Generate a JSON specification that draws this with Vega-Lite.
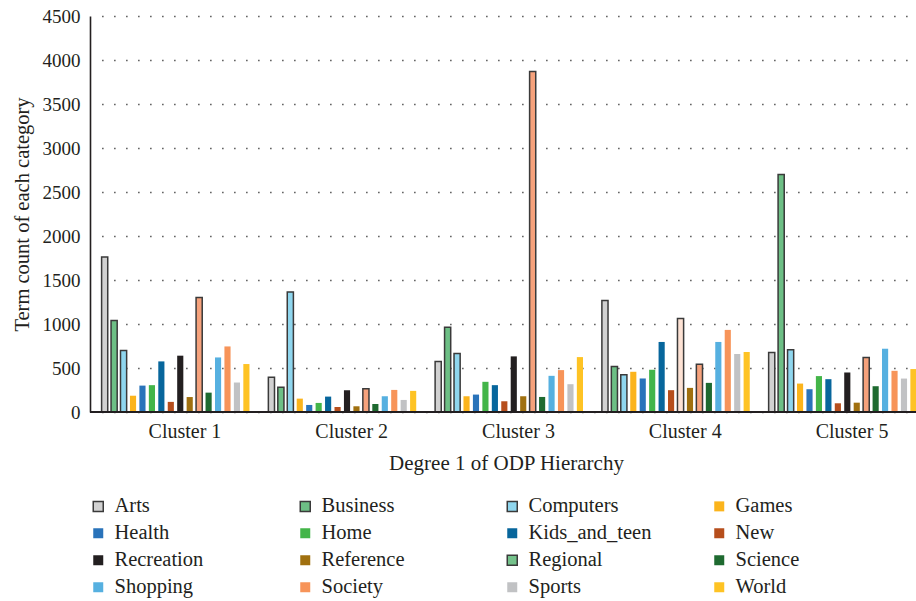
{
  "$schema": "https://vega.github.io/schema/vega-lite/v6.json",
  "width": 826,
  "height": 396,
  "autosize": "none",
  "padding": {"left": 90, "top": 16, "right": 0, "bottom": 189},
  "background": "white",
  "config": {
    "view": {"stroke": null},
    "font": "Liberation Serif",
    "axis": {"labelFont": "Liberation Serif", "titleFont": "Liberation Serif", "labelColor": "#231f20", "titleColor": "#231f20", "titleFontWeight": "normal"},
    "legend": {"labelFont": "Liberation Serif", "labelColor": "#231f20"}
  },
  "data": {
    "values": [
      {"cluster": "Cluster 1", "category": "Arts", "count": 1760},
      {"cluster": "Cluster 1", "category": "Business", "count": 1040},
      {"cluster": "Cluster 1", "category": "Computers", "count": 700},
      {"cluster": "Cluster 1", "category": "Games", "count": 185},
      {"cluster": "Cluster 1", "category": "Health", "count": 300},
      {"cluster": "Cluster 1", "category": "Home", "count": 305},
      {"cluster": "Cluster 1", "category": "Kids_and_teen", "count": 575},
      {"cluster": "Cluster 1", "category": "New", "count": 115},
      {"cluster": "Cluster 1", "category": "Recreation", "count": 640},
      {"cluster": "Cluster 1", "category": "Reference", "count": 170},
      {"cluster": "Cluster 1", "category": "Regional", "count": 1300},
      {"cluster": "Cluster 1", "category": "Science", "count": 220},
      {"cluster": "Cluster 1", "category": "Shopping", "count": 620},
      {"cluster": "Cluster 1", "category": "Society", "count": 745},
      {"cluster": "Cluster 1", "category": "Sports", "count": 335},
      {"cluster": "Cluster 1", "category": "World", "count": 545},
      {"cluster": "Cluster 2", "category": "Arts", "count": 395},
      {"cluster": "Cluster 2", "category": "Business", "count": 280},
      {"cluster": "Cluster 2", "category": "Computers", "count": 1365},
      {"cluster": "Cluster 2", "category": "Games", "count": 152},
      {"cluster": "Cluster 2", "category": "Health", "count": 80},
      {"cluster": "Cluster 2", "category": "Home", "count": 103},
      {"cluster": "Cluster 2", "category": "Kids_and_teen", "count": 175},
      {"cluster": "Cluster 2", "category": "New", "count": 57},
      {"cluster": "Cluster 2", "category": "Recreation", "count": 248},
      {"cluster": "Cluster 2", "category": "Reference", "count": 65},
      {"cluster": "Cluster 2", "category": "Regional", "count": 263},
      {"cluster": "Cluster 2", "category": "Science", "count": 91},
      {"cluster": "Cluster 2", "category": "Shopping", "count": 179},
      {"cluster": "Cluster 2", "category": "Society", "count": 251},
      {"cluster": "Cluster 2", "category": "Sports", "count": 137},
      {"cluster": "Cluster 2", "category": "World", "count": 240},
      {"cluster": "Cluster 3", "category": "Arts", "count": 575},
      {"cluster": "Cluster 3", "category": "Business", "count": 963},
      {"cluster": "Cluster 3", "category": "Computers", "count": 666},
      {"cluster": "Cluster 3", "category": "Games", "count": 179},
      {"cluster": "Cluster 3", "category": "Health", "count": 198},
      {"cluster": "Cluster 3", "category": "Home", "count": 343},
      {"cluster": "Cluster 3", "category": "Kids_and_teen", "count": 305},
      {"cluster": "Cluster 3", "category": "New", "count": 122},
      {"cluster": "Cluster 3", "category": "Recreation", "count": 632},
      {"cluster": "Cluster 3", "category": "Reference", "count": 179},
      {"cluster": "Cluster 3", "category": "Regional", "count": 3870},
      {"cluster": "Cluster 3", "category": "Science", "count": 171},
      {"cluster": "Cluster 3", "category": "Shopping", "count": 411},
      {"cluster": "Cluster 3", "category": "Society", "count": 476},
      {"cluster": "Cluster 3", "category": "Sports", "count": 316},
      {"cluster": "Cluster 3", "category": "World", "count": 624},
      {"cluster": "Cluster 4", "category": "Arts", "count": 1268},
      {"cluster": "Cluster 4", "category": "Business", "count": 518},
      {"cluster": "Cluster 4", "category": "Computers", "count": 423},
      {"cluster": "Cluster 4", "category": "Games", "count": 457},
      {"cluster": "Cluster 4", "category": "Health", "count": 381},
      {"cluster": "Cluster 4", "category": "Home", "count": 480},
      {"cluster": "Cluster 4", "category": "Kids_and_teen", "count": 796},
      {"cluster": "Cluster 4", "category": "New", "count": 248},
      {"cluster": "Cluster 4", "category": "Recreation", "count": 1062},
      {"cluster": "Cluster 4", "category": "Reference", "count": 274},
      {"cluster": "Cluster 4", "category": "Regional", "count": 544},
      {"cluster": "Cluster 4", "category": "Science", "count": 331},
      {"cluster": "Cluster 4", "category": "Shopping", "count": 796},
      {"cluster": "Cluster 4", "category": "Society", "count": 933},
      {"cluster": "Cluster 4", "category": "Sports", "count": 659},
      {"cluster": "Cluster 4", "category": "World", "count": 682},
      {"cluster": "Cluster 5", "category": "Arts", "count": 677},
      {"cluster": "Cluster 5", "category": "Business", "count": 2700},
      {"cluster": "Cluster 5", "category": "Computers", "count": 708},
      {"cluster": "Cluster 5", "category": "Games", "count": 323},
      {"cluster": "Cluster 5", "category": "Health", "count": 259},
      {"cluster": "Cluster 5", "category": "Home", "count": 408},
      {"cluster": "Cluster 5", "category": "Kids_and_teen", "count": 373},
      {"cluster": "Cluster 5", "category": "New", "count": 99},
      {"cluster": "Cluster 5", "category": "Recreation", "count": 449},
      {"cluster": "Cluster 5", "category": "Reference", "count": 106},
      {"cluster": "Cluster 5", "category": "Regional", "count": 620},
      {"cluster": "Cluster 5", "category": "Science", "count": 293},
      {"cluster": "Cluster 5", "category": "Shopping", "count": 719},
      {"cluster": "Cluster 5", "category": "Society", "count": 468},
      {"cluster": "Cluster 5", "category": "Sports", "count": 380},
      {"cluster": "Cluster 5", "category": "World", "count": 488}
    ]
  },
  "layer": [
    {
      "mark": {"type": "bar", "strokeWidth": 1.5},
      "encoding": {
        "x": {
          "field": "cluster", "type": "nominal",
          "scale": {"range": [11.6, 845.4], "paddingInner": 0, "paddingOuter": 0},
          "axis": {
            "title": "Degree 1 of ODP Hierarchy", "domain": false, "ticks": false,
            "labelAngle": 0, "labelFontSize": 20, "labelPadding": 9,
            "labelFont": "Liberation Serif", "titleFont": "Liberation Serif",
            "titleFontSize": 21, "titlePadding": 11, "titleX": 416
          }
        },
        "xOffset": {
          "field": "category", "type": "nominal",
          "sort": ["Arts","Business","Computers","Games","Health","Home","Kids_and_teen","New","Recreation","Reference","Regional","Science","Shopping","Society","Sports","World"],
          "scale": {"paddingInner": 0.35, "paddingOuter": 1.33, "align": 0}
        },
        "y": {
          "field": "count", "type": "quantitative",
          "scale": {"domain": [0, 4500], "nice": false},
          "axis": {
            "title": "Term count of each category", "format": "d",
            "values": [0,500,1000,1500,2000,2500,3000,3500,4000,4500],
            "ticks": false, "labelPadding": 10, "labelFontSize": 19,
            "labelFont": "Liberation Serif", "titleFont": "Liberation Serif",
            "domainColor": "#231f20", "domainWidth": 1.6,
            "grid": true, "gridDash": [1.5, 10.5], "gridColor": "#555555", "gridWidth": 1.3,
            "titleFontSize": 20.5, "titlePadding": 10
          }
        },
        "color": {
          "condition": [
            {"test": "datum.category === 'Regional'", "value": "#f6a27c"},
            {"test": "datum.category === 'Recreation' && datum.cluster === 'Cluster 4'", "value": "#fde2d4"}
          ],
          "field": "category", "type": "nominal",
          "scale": {
            "domain": ["Arts","Business","Computers","Games","Health","Home","Kids_and_teen","New","Recreation","Reference","Regional","Science","Shopping","Society","Sports","World"],
            "range": ["#d1d1d1","#6dbf85","#8fd6ee","#fbb41c","#2973ba","#43b549","#07669c","#b64e1c","#231f20","#a0700f","#74c28b","#1e6a30","#56b0e0","#f79459","#c1c2c4","#fec324"]
          },
          "legend": {
            "title": null, "orient": "none", "legendX": -2, "legendY": 480,
            "direction": "horizontal", "columns": 4, "gridAlign": "all",
            "columnPadding": 57, "rowPadding": 6,
            "symbolType": "square", "symbolSize": 100, "symbolStrokeWidth": 1.5,
            "labelFont": "Liberation Serif", "labelFontSize": 20.5, "labelOffset": 6, "labelLimit": 300
          }
        },
        "stroke": {
          "condition": {"test": "datum.category === 'Recreation' && datum.cluster === 'Cluster 4'", "value": "#3a3a3a"},
          "field": "category", "type": "nominal",
          "scale": {
            "domain": ["Arts","Business","Computers","Games","Health","Home","Kids_and_teen","New","Recreation","Reference","Regional","Science","Shopping","Society","Sports","World"],
            "range": ["#3a3a3a","#3a3a3a","#3a3a3a","transparent","transparent","transparent","transparent","transparent","transparent","transparent","#3a3a3a","transparent","transparent","transparent","transparent","transparent"]
          },
          "legend": {
            "title": null, "orient": "none", "legendX": -2, "legendY": 480,
            "direction": "horizontal", "columns": 4, "gridAlign": "all",
            "columnPadding": 57, "rowPadding": 6,
            "symbolType": "square", "symbolSize": 100, "symbolStrokeWidth": 1.5,
            "labelFont": "Liberation Serif", "labelFontSize": 20.5, "labelOffset": 6, "labelLimit": 300
          }
        }
      }
    },
    {
      "mark": {"type": "rule", "color": "#231f20", "strokeWidth": 1.6},
      "encoding": {"y": {"datum": 0}}
    }
  ]
}
